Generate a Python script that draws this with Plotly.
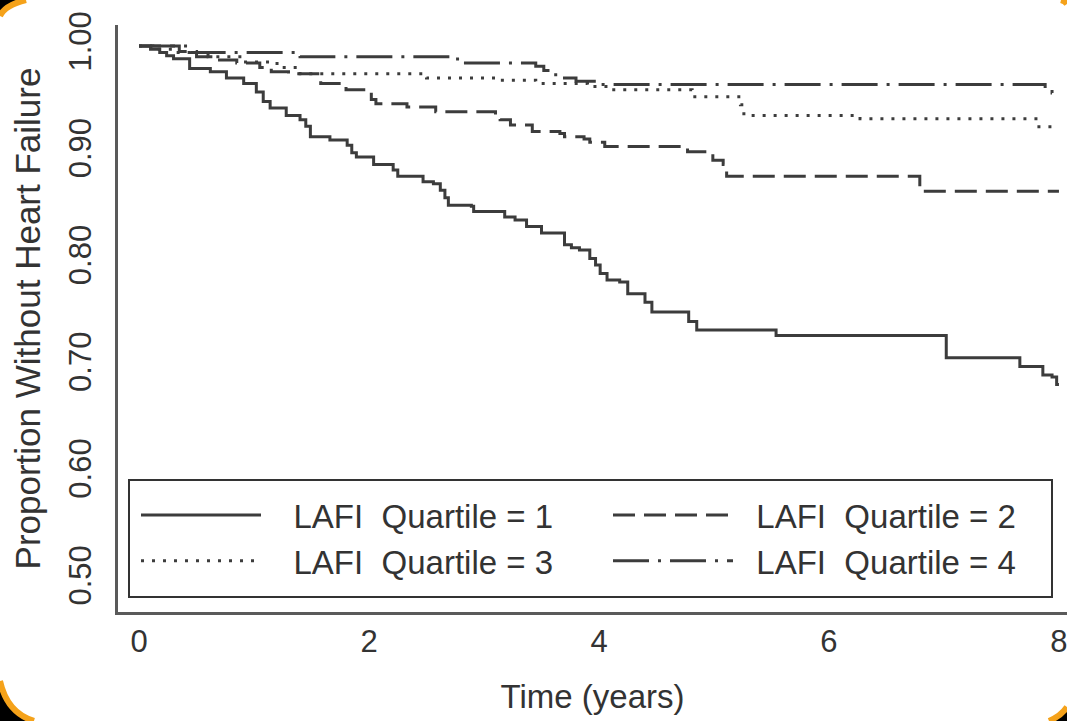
import plotly.graph_objects as go

# ---------------- data ----------------
q1_t = [0, 0.10, 0.18, 0.24, 0.30, 0.44, 0.62, 0.76, 0.91, 1.02, 1.08, 1.14, 1.28, 1.40, 1.45,
        1.49, 1.66, 1.81, 1.85, 1.89, 2.04, 2.21, 2.25, 2.47, 2.56, 2.62, 2.66, 2.69, 2.89, 2.91,
        3.18, 3.27, 3.37, 3.50, 3.70, 3.76, 3.83, 3.92, 3.97, 4.01, 4.07, 4.18, 4.25, 4.40, 4.46,
        4.78, 4.85, 5.54, 7.02, 7.66, 7.86, 7.94, 7.98, 8.00]
q1_s = [1.000, 0.997, 0.994, 0.991, 0.988, 0.979, 0.976, 0.970, 0.965, 0.957, 0.948, 0.942, 0.935,
        0.931, 0.925, 0.915, 0.912, 0.907, 0.900, 0.896, 0.889, 0.884, 0.878, 0.873, 0.871, 0.865,
        0.858, 0.851, 0.850, 0.845, 0.840, 0.837, 0.831, 0.825, 0.814, 0.811, 0.809, 0.801, 0.795,
        0.787, 0.781, 0.779, 0.768, 0.760, 0.751, 0.742, 0.734, 0.729, 0.708, 0.700, 0.692, 0.690,
        0.683, 0.683]

q2_t = [0, 0.35, 0.50, 0.70, 0.85, 1.05, 1.15, 1.30, 1.58, 1.80, 2.02, 2.06, 2.33, 2.58, 3.10,
        3.14, 3.23, 3.42, 3.66, 3.70, 3.87, 3.92, 4.05, 4.77, 4.99, 5.08, 5.11, 6.79, 8.00]
q2_s = [1.000, 0.995, 0.990, 0.987, 0.984, 0.980, 0.976, 0.974, 0.965, 0.959, 0.950, 0.946, 0.943,
        0.9385, 0.935, 0.931, 0.926, 0.920, 0.918, 0.915, 0.913, 0.910, 0.906, 0.901, 0.893, 0.889,
        0.878, 0.864, 0.864]

q3_t = [0, 0.12, 0.30, 0.60, 0.90, 1.20, 1.40, 2.50, 3.14, 3.45, 3.90, 4.08, 4.81, 5.23, 5.26,
        6.27, 7.80, 8.00]
q3_s = [1.000, 0.997, 0.994, 0.990, 0.985, 0.980, 0.974, 0.970, 0.968, 0.965, 0.962, 0.959, 0.9525,
        0.945, 0.935, 0.932, 0.9245, 0.9245]

q4_t = [0, 0.45, 1.40, 2.77, 3.45, 3.52, 3.60, 3.65, 3.80, 4.00, 7.88, 7.94, 8.00]
q4_s = [1.000, 0.994, 0.990, 0.984, 0.981, 0.977, 0.973, 0.970, 0.967, 0.964, 0.960, 0.956, 0.956]

series_names = ["LAFI\u00a0 Quartile = 1", "LAFI\u00a0 Quartile = 2",
                "LAFI\u00a0 Quartile = 3", "LAFI\u00a0 Quartile = 4"]
x_ticks = [0, 2, 4, 6, 8]
y_ticks = [0.5, 0.6, 0.7, 0.8, 0.9, 1.0]
y_tick_text = ["0.50", "0.60", "0.70", "0.80", "0.90", "1.00"]

# ---------------- figure ----------------
FONT = "Liberation Sans, Arial, sans-serif"
TXT_C = "#333333"
LINE_C = "#3c3c3c"
dashes = ["solid", "22px,9px", "3px,8px", "36px,9px,3px,9px"]
times = [q1_t, q2_t, q3_t, q4_t]
survs = [q1_s, q2_s, q3_s, q4_s]
legend_ids = ["legend", "legend2", "legend", "legend2"]
pads = ["\u00a0\u00a0\u00a0", "\u00a0\u00a0", "\u00a0\u00a0\u00a0", "\u00a0\u00a0"]

fig = go.Figure()
for i, (name, t, s, d) in enumerate(zip(series_names, times, survs, dashes)):
    fig.add_trace(go.Scatter(x=t, y=s, mode="lines", name=pads[i] + name,
                             legend=legend_ids[i], legendgroup=f"g{i}",
                             line=dict(shape="hv", color=LINE_C, width=3, dash=d)))

W, H = 1067, 721
L, R, T, B = 118, 0, 25, 109
pw, ph = W - L - R, H - T - B


def pp(px, py):
    return (px - L) / pw, (H - B - py) / ph


shapes = []
ORANGE = "#f5a21a"
corners = [
    # corner, edge point a, control, edge point b
    ((0, 0), (0, 16), (5, 5), (26, 0)),
    ((W, 0), (1061, 0), (1065, 1), (W, 4)),
    ((0, H), (0, 681), (7, 713), (34, H)),
    ((W, H), (1049, H), (1061, 716), (W, 707)),
]
for c, a, q, b in corners:
    cx, cy = pp(*c)
    ax, ay = pp(*a)
    qx, qy = pp(*q)
    bx, by = pp(*b)
    shapes.append(dict(type="path", xref="paper", yref="paper",
                       path=f"M{cx},{cy} L{ax},{ay} Q{qx},{qy} {bx},{by} Z",
                       fillcolor="black", line=dict(width=0), layer="above"))
    shapes.append(dict(type="path", xref="paper", yref="paper",
                       path=f"M{ax},{ay} Q{qx},{qy} {bx},{by}",
                       fillcolor="rgba(0,0,0,0)", line=dict(color=ORANGE, width=6), layer="above"))

# legend frame
bx0, by0 = pp(129, 597)
bx1, by1 = pp(1052, 480)
shapes.append(dict(type="rect", xref="paper", yref="paper", x0=bx0, y0=by0, x1=bx1, y1=by1,
                   fillcolor="white", line=dict(color=TXT_C, width=2), layer="above"))

leg_common = dict(orientation="v", xanchor="left", yanchor="top", borderwidth=0,
                  bgcolor="rgba(0,0,0,0)", font=dict(size=33, family=FONT, color=TXT_C),
                  itemwidth=120, traceorder="normal", tracegroupgap=4)
lx1, ly = pp(136, 487)
lx2, _ = pp(608, 487)

fig.update_layout(
    width=W, height=H,
    margin=dict(l=L, r=R, t=T, b=B, pad=0),
    paper_bgcolor="white", plot_bgcolor="white",
    font=dict(family=FONT, color=TXT_C),
    showlegend=True,
    legend=dict(x=lx1, y=ly, **leg_common),
    legend2=dict(x=lx2, y=ly, **leg_common),
    shapes=shapes,
)
fig.update_xaxes(range=[-0.183, 8.07], tickvals=x_ticks, ticktext=[str(v) for v in x_ticks],
                 showgrid=False, zeroline=False, showline=True, linecolor="#5a5a5a", linewidth=3,
                 ticks="", tickfont=dict(size=31, family=FONT, color=TXT_C),
                 ticklabelstandoff=0, ticklabeloverflow="allow",
                 title=dict(text="Time (years)", font=dict(size=33, family=FONT, color=TXT_C),
                            standoff=27))
fig.update_yaxes(range=[0.47, 1.0197], tickvals=y_ticks, ticktext=y_tick_text, tickangle=-90,
                 showgrid=False, zeroline=False, showline=True, linecolor="#5a5a5a", linewidth=3,
                 ticks="", tickfont=dict(size=31, family=FONT, color=TXT_C),
                 ticklabelstandoff=12,
                 title=dict(text="Proportion Without Heart Failure",
                            font=dict(size=35, family=FONT, color=TXT_C), standoff=12))

fig.write_html("out.html")
